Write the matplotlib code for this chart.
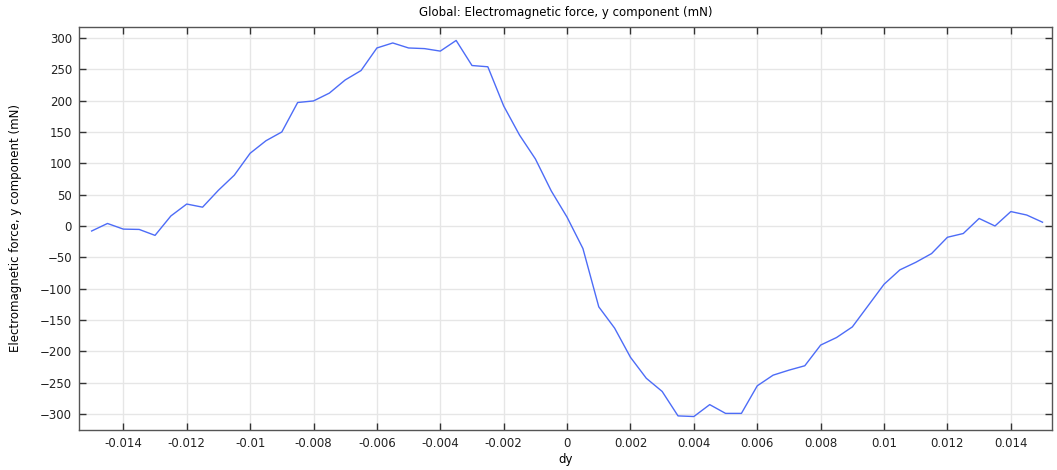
import numpy as np
import matplotlib
matplotlib.use('Agg')
import matplotlib.pyplot as plt

# dy sweep, step 0.0005
dy = np.round(np.arange(-0.015, 0.01501, 0.0005), 4)

# y component of electromagnetic force (mN)
force_y = [
    -8, 4, -5, -5.5, -15, 16, 35, 30, 57, 81,
    116, 136, 150, 197, 199.5, 212, 233, 248, 284, 292,
    284, 283, 279, 296, 256, 254, 191.5, 145, 107, 56,
    14, -36, -129, -163, -209.5, -243, -264, -303, -304, -285,
    -299, -299, -255, -238, -230, -223, -190, -178, -161, -127,
    -93, -70, -58, -44, -18, -12, 12, 0, 23, 17.5,
    6,
]

x_ticks = [-0.014, -0.012, -0.01, -0.008, -0.006, -0.004, -0.002, 0,
           0.002, 0.004, 0.006, 0.008, 0.01, 0.012, 0.014]
x_tick_labels = ['-0.014', '-0.012', '-0.01', '-0.008', '-0.006', '-0.004',
                 '-0.002', '0', '0.002', '0.004', '0.006', '0.008', '0.01',
                 '0.012', '0.014']
y_ticks = list(range(-300, 301, 50))

plt.rcParams['font.family'] = ['DejaVu Sans']
plt.rcParams['font.size'] = 8.5

fig = plt.figure(figsize=(10.57, 4.70), dpi=100)
ax = fig.add_axes([0.0747, 0.0851, 0.9206, 0.8575])

ax.plot(dy, force_y, color='#4d6cf7', linewidth=1.0)

ax.set_xlim(-0.0154, 0.0153)
ax.set_ylim(-325.5, 317.5)
ax.set_xticks(x_ticks)
ax.set_xticklabels(x_tick_labels)
ax.set_yticks(y_ticks)

ax.grid(True, color='#e6e6e6', linewidth=1.0)
ax.set_axisbelow(True)
ax.tick_params(direction='in', length=5, width=1, color='#333333',
               top=True, right=True, labelcolor='#222222', pad=5)
for s in ax.spines.values():
    s.set_color('#555555')
    s.set_linewidth(1.0)

ax.set_title('Global: Electromagnetic force, y component (mN)', fontsize=8.5, pad=8)
ax.set_xlabel('dy', labelpad=2)
ax.set_ylabel('Electromagnetic force, y component (mN)', labelpad=13)

fig.savefig('out.png', dpi=100)
